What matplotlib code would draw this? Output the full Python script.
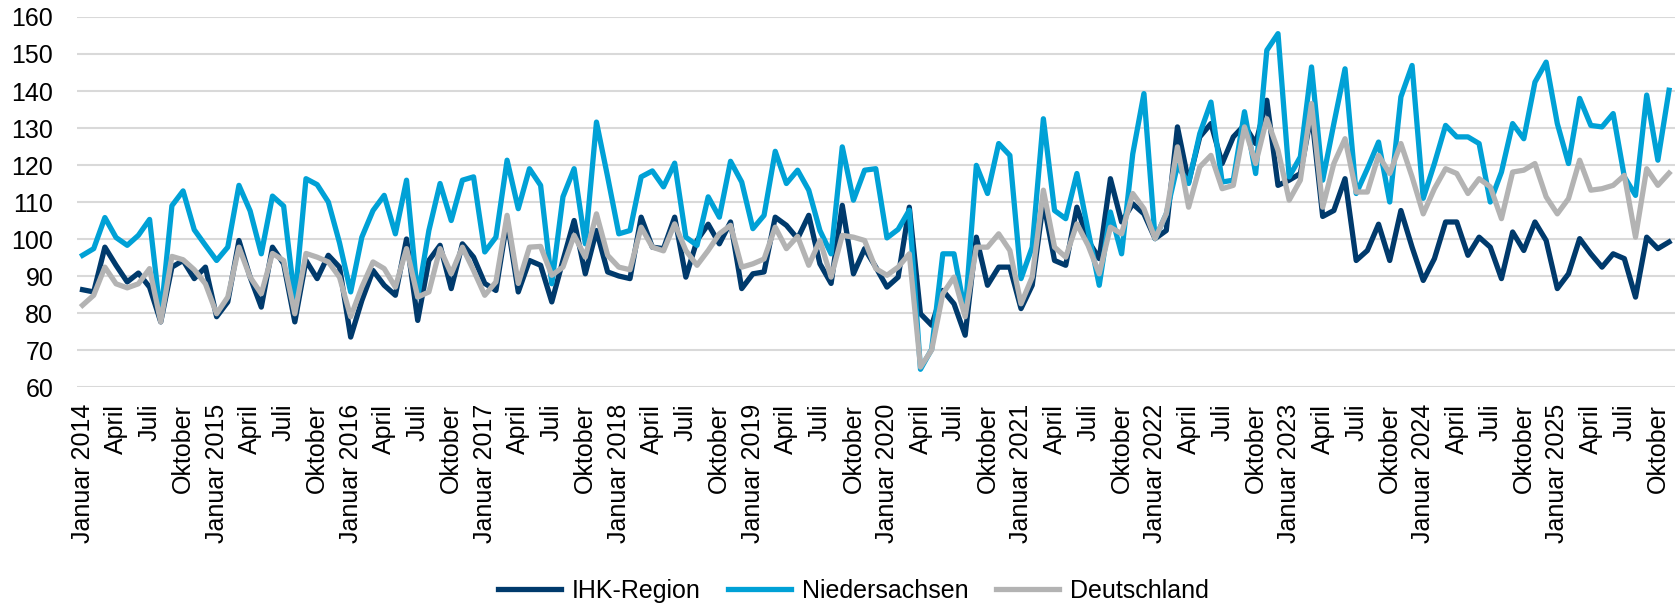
import matplotlib
matplotlib.use("Agg")
import matplotlib.pyplot as plt

plt.rcParams['font.family'] = ['Liberation Sans', 'DejaVu Sans']

# Monatswerte Januar 2014 bis November 2025
ihk_region = [
    86.3, 85.7, 97.8, 92.9, 88.4, 90.8, 87.0, 77.6, 92.4, 94.2, 89.3, 92.4,
    79.0, 83.0, 99.6, 89.7, 81.6, 97.8, 93.3, 77.6, 94.2, 89.3, 95.6, 92.4,
    73.5, 83.4, 91.5, 87.5, 84.8, 100.0, 78.0, 94.2, 98.3, 86.6, 98.7, 95.1,
    88.0, 86.1, 105.0, 85.7, 94.2, 92.9, 83.0, 94.2, 105.0, 90.6, 102.3, 91.1,
    90.0, 89.3, 105.9, 97.8, 97.4, 105.9, 89.7, 99.6, 104.0, 98.7, 104.6, 86.6,
    90.6, 91.1, 105.9, 103.7, 100.1, 106.4, 93.3, 88.0, 109.1, 90.6, 97.4, 92.4,
    87.0, 89.7, 108.6, 79.8, 76.7, 86.1, 82.5, 74.0, 100.5, 87.5, 92.4, 92.4,
    81.2, 87.5, 110.0, 94.2, 92.9, 108.6, 99.6, 94.7, 116.3, 104.6, 109.5, 106.8,
    100.1, 102.3, 130.3, 115.4, 127.6, 131.2, 120.4, 127.6, 130.8, 125.8, 137.5, 114.5,
    115.9, 117.7, 134.0, 106.1, 107.7, 116.3, 94.2, 96.9, 104.0, 94.2, 107.7, 97.8,
    88.8, 94.7, 104.6, 104.6, 95.6, 100.5, 97.8, 89.3, 101.9, 96.9, 104.6, 99.6,
    86.6, 90.6, 100.1, 96.0, 92.4, 96.0, 94.7, 84.3, 100.5, 97.4, 99.2,
]
niedersachsen = [
    95.6, 97.4, 105.8, 100.4, 98.3, 101.0, 105.3, 79.0, 109.0, 113.0, 102.5, 98.3,
    94.2, 97.8, 114.5, 107.6, 96.0, 111.6, 108.9, 83.4, 116.3, 114.7, 110.0, 99.0,
    85.7, 100.5, 107.7, 111.8, 101.4, 115.9, 84.3, 102.3, 115.0, 105.0, 115.9, 116.8,
    96.5, 100.5, 121.3, 108.2, 119.0, 114.5, 87.9, 111.4, 119.0, 98.7, 131.6, 116.8,
    101.4, 102.3, 116.8, 118.4, 114.1, 120.5, 100.5, 98.3, 111.4, 105.9, 121.0, 115.4,
    102.8, 106.4, 123.7, 115.0, 118.6, 113.2, 102.3, 96.0, 124.9, 110.5, 118.6, 119.0,
    100.3, 102.6, 107.8, 64.8, 70.2, 96.0, 96.0, 80.0, 119.9, 112.3, 125.8, 122.6,
    89.3, 97.8, 132.5, 107.7, 105.5, 117.7, 102.3, 87.5, 107.3, 96.0, 123.0, 139.3,
    100.1, 106.8, 119.9, 115.0, 128.5, 137.0, 115.4, 115.9, 134.4, 117.7, 151.0, 155.5,
    116.8, 122.2, 146.5, 115.9, 131.2, 146.0, 112.3, 119.0, 126.2, 110.0, 138.4, 146.9,
    111.0, 120.4, 130.7, 127.6, 127.6, 125.8, 110.0, 118.1, 131.2, 127.1, 142.4, 147.8,
    131.2, 120.4, 138.0, 130.7, 130.3, 133.9, 116.8, 111.8, 138.9, 121.3, 140.2,
]
deutschland = [
    82.1, 84.8, 92.4, 87.9, 86.8, 87.9, 92.0, 77.6, 95.3, 94.4, 91.7, 87.9,
    79.8, 84.3, 97.8, 89.7, 85.2, 96.1, 94.2, 79.8, 96.1, 95.1, 93.8, 89.7,
    79.0, 87.0, 93.8, 92.0, 87.0, 97.4, 84.3, 85.7, 97.4, 90.6, 97.8, 91.5,
    84.8, 88.4, 106.4, 88.0, 97.8, 98.0, 90.2, 92.4, 101.0, 95.1, 106.8, 95.6,
    92.4, 91.7, 103.2, 97.8, 96.8, 104.1, 96.9, 92.9, 96.9, 101.4, 103.7, 92.4,
    93.3, 94.6, 103.2, 97.4, 100.7, 92.9, 99.6, 89.7, 101.0, 100.5, 99.6, 92.0,
    90.2, 92.4, 96.0, 65.4, 70.0, 85.2, 89.7, 79.0, 97.8, 97.8, 101.4, 96.9,
    82.5, 89.7, 113.2, 97.8, 95.1, 104.1, 98.3, 90.6, 103.2, 101.4, 112.3, 108.2,
    100.1, 106.8, 124.9, 108.6, 119.5, 122.6, 113.6, 114.5, 130.3, 120.4, 132.5, 124.0,
    110.5, 115.9, 136.6, 108.6, 120.4, 127.1, 112.7, 112.7, 122.6, 117.7, 125.8, 116.8,
    106.8, 113.6, 119.0, 117.7, 112.3, 116.3, 114.1, 105.5, 118.1, 118.6, 120.4, 111.4,
    106.8, 110.9, 121.3, 113.2, 113.6, 114.5, 117.2, 100.5, 119.0, 114.5, 117.8,
]

years = list(range(2014, 2026))
quarter_months = ["April", "Juli", "Oktober"]

# Achsenbeschriftung alle drei Monate
tick_pos = []
tick_labels = []
for k, y in enumerate(years):
    tick_pos.append(k * 12)
    tick_labels.append("Januar %d" % y)
    for q, m in enumerate(quarter_months):
        tick_pos.append(k * 12 + 3 * (q + 1))
        tick_labels.append(m)

x = list(range(len(ihk_region)))

fig = plt.figure(figsize=(16.8, 6.07), dpi=100)
ax = fig.add_axes([0.0458, 0.3624, 0.951, 0.6096])

ax.plot(x, ihk_region, color="#003a6c", lw=3.8, label="IHK-Region")
ax.plot(x, niedersachsen, color="#00a1d6", lw=3.8, label="Niedersachsen")
ax.plot(x, deutschland, color="#b3b3b3", lw=3.8, label="Deutschland")

ax.set_xlim(-0.5, len(x) - 0.5)
ax.set_ylim(60, 160)
ax.set_yticks(range(60, 161, 10))
ax.grid(axis="y", color="#d9d9d9", lw=1.5)
ax.set_axisbelow(True)
for s in ax.spines.values():
    s.set_visible(False)

ax.set_xticks(tick_pos)
ax.set_xticklabels(tick_labels, rotation=90, fontsize=18)
ax.tick_params(axis="x", length=0, pad=12)
ax.tick_params(axis="y", length=0, pad=17, labelsize=18)

fig.legend(loc="center", bbox_to_anchor=(0.508, 0.026), ncol=3, frameon=False,
           fontsize=18, handlelength=2.5, handletextpad=0.45, columnspacing=1.1)

fig.savefig("out.png", dpi=100)
